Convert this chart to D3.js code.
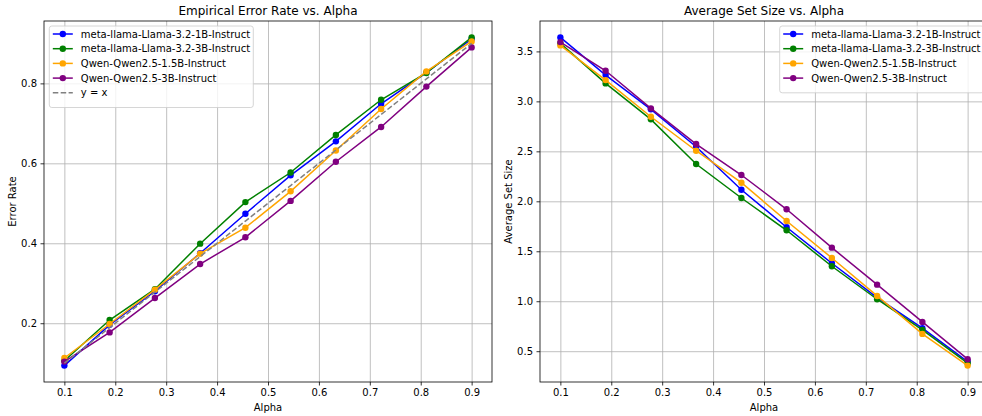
<!DOCTYPE html>
<html>
<head>
<meta charset="utf-8">
<script src="https://cdn.jsdelivr.net/npm/d3@7"></script>
<style>
  body { margin: 0; background: #fff; }
  svg { display: block; font-family: "DejaVu Sans", sans-serif; }
  .tick text { font-size: 10px; fill: #000; }
</style>
</head>
<body>
<svg id="chart" width="982" height="416"></svg>
<script>
// alpha values (x axis)
const alphas = [0.1, 0.1889, 0.2778, 0.3667, 0.4556, 0.5444, 0.6333, 0.7222, 0.8111, 0.9];
const models = ["meta-llama-Llama-3.2-1B-Instruct", "meta-llama-Llama-3.2-3B-Instruct",
                "Qwen-Qwen2.5-1.5B-Instruct", "Qwen-Qwen2.5-3B-Instruct"];
const colors = ["blue", "green", "orange", "purple"];

// empirical error rate per model
const errLlama1B = [0.094, 0.196, 0.280, 0.375, 0.474, 0.570, 0.655, 0.749, 0.827, 0.911];
const errLlama3B = [0.106, 0.208, 0.285, 0.399, 0.503, 0.577, 0.671, 0.759, 0.826, 0.915];
const errQwen15B = [0.113, 0.198, 0.284, 0.374, 0.439, 0.530, 0.632, 0.736, 0.830, 0.905];
const errQwen3B  = [0.104, 0.177, 0.263, 0.348, 0.415, 0.506, 0.604, 0.691, 0.792, 0.890];

// average set size per model
const sizeLlama1B = [3.64, 3.263, 2.92, 2.546, 2.116, 1.74, 1.38, 1.036, 0.73, 0.396];
const sizeLlama3B = [3.58, 3.18, 2.82, 2.373, 2.033, 1.71, 1.35, 1.02, 0.713, 0.38];
const sizeQwen15B = [3.56, 3.213, 2.846, 2.506, 2.186, 1.803, 1.433, 1.053, 0.673, 0.356];
const sizeQwen3B  = [3.593, 3.306, 2.93, 2.573, 2.263, 1.92, 1.536, 1.166, 0.793, 0.42];

const xTicks = [0.1, 0.2, 0.3, 0.4, 0.5, 0.6, 0.7, 0.8, 0.9];
const errTicks = [0.2, 0.4, 0.6, 0.8];
const sizeTicks = [0.5, 1.0, 1.5, 2.0, 2.5, 3.0, 3.5];

const svg = d3.select("#chart");

function panel(opts) {
  let left = opts.left, top = 21, width = 448, height = 361;
  let g = svg.append("g").attr("transform", "translate(" + left + "," + top + ")");

  // matplotlib style 5% padding
  let xr = alphas[alphas.length - 1] - alphas[0];
  let x = d3.scaleLinear()
      .domain([alphas[0] - 0.05 * xr, alphas[alphas.length - 1] + 0.05 * xr])
      .range([0, width]);
  let all = d3.merge(opts.series);
  let ext = d3.extent(all), yr = ext[1] - ext[0];
  let y = d3.scaleLinear()
      .domain([ext[0] - 0.05 * yr, ext[1] + 0.05 * yr])
      .range([height, 0]);

  // grid
  g.append("g").attr("class", "grid")
      .attr("transform", "translate(0," + height + ")")
      .call(d3.axisBottom(x).tickValues(xTicks).tickSize(-height).tickFormat(""))
      .call(s => s.select(".domain").remove());
  g.append("g").attr("class", "grid")
      .call(d3.axisLeft(y).tickValues(opts.yTicks).tickSize(-width).tickFormat(""))
      .call(s => s.select(".domain").remove());
  g.selectAll(".grid line").attr("stroke", "#b0b0b0").attr("stroke-width", 0.8);

  // axes
  let xa = g.append("g")
      .attr("transform", "translate(0," + height + ")")
      .call(d3.axisBottom(x).tickValues(xTicks).tickSize(3.5).tickPadding(3.5).tickFormat(d3.format(".1f")));
  let ya = g.append("g")
      .call(d3.axisLeft(y).tickValues(opts.yTicks).tickSize(3.5).tickPadding(3.5).tickFormat(d3.format(".1f")));
  [xa, ya].forEach(a => {
    a.select(".domain").remove();
    a.selectAll(".tick line").attr("stroke", "#000").attr("stroke-width", 0.8);
    a.attr("font-family", null).attr("font-size", null);
  });

  let line = d3.line()
      .x((d, i) => x(alphas[i]))
      .y(d => y(d));

  opts.series.forEach((s, k) => {
    g.append("path").datum(s)
        .attr("d", line)
        .attr("fill", "none")
        .attr("stroke", colors[k])
        .attr("stroke-width", 1.5);
    g.selectAll(null).data(s).enter().append("circle")
        .attr("cx", (d, i) => x(alphas[i]))
        .attr("cy", d => y(d))
        .attr("r", 3.2)
        .attr("fill", colors[k]);
  });

  if (opts.diag) {
    g.append("path").datum(alphas)
        .attr("d", d3.line().x(d => x(d)).y(d => y(d)))
        .attr("fill", "none")
        .attr("stroke", "gray")
        .attr("stroke-width", 1.5)
        .attr("stroke-dasharray", "5.5,2.4");
  }

  // frame
  g.append("rect")
      .attr("width", width).attr("height", height)
      .attr("fill", "none").attr("stroke", "#000").attr("stroke-width", 0.8);

  // titles
  g.append("text")
      .attr("x", width / 2).attr("y", -6)
      .attr("text-anchor", "middle")
      .attr("font-size", 12)
      .text(opts.title);
  g.append("text")
      .attr("x", width / 2).attr("y", height + 29)
      .attr("text-anchor", "middle")
      .attr("font-size", 10)
      .text("Alpha");
  g.append("text")
      .attr("transform", "translate(" + opts.yLabelX + "," + (height / 2) + ") rotate(-90)")
      .attr("text-anchor", "middle")
      .attr("font-size", 10)
      .text(opts.yLabel);

  // legend
  let names = models.slice();
  if (opts.diag) names.push("y = x");
  let lg = g.append("g").attr("transform", "translate(" + opts.legendX + ",5)");
  lg.append("rect")
      .attr("width", opts.legendW).attr("height", 8 + names.length * 14.7)
      .attr("rx", 2.5)
      .attr("fill", "#fff").attr("fill-opacity", 0.8)
      .attr("stroke", "#cccccc").attr("stroke-width", 0.8);
  names.forEach((nm, k) => {
    let yy = 8 + k * 14.7;
    let row = lg.append("g").attr("transform", "translate(0," + yy + ")");
    if (k < models.length) {
      row.append("line").attr("x1", 3.5).attr("x2", 23.5)
          .attr("stroke", colors[k]).attr("stroke-width", 1.5);
      row.append("circle").attr("cx", 13.5).attr("r", 3.2).attr("fill", colors[k]);
    } else {
      row.append("line").attr("x1", 3.5).attr("x2", 23.5)
          .attr("stroke", "gray").attr("stroke-width", 1.5)
          .attr("stroke-dasharray", "5.5,2.4");
    }
    row.append("text").attr("x", 31.5).attr("dy", "0.35em")
        .attr("font-size", 10).text(nm);
  });
}

panel({
  left: 44, title: "Empirical Error Rate vs. Alpha", yLabel: "Error Rate", yLabelX: -28,
  series: [errLlama1B, errLlama3B, errQwen15B, errQwen3B], yTicks: errTicks,
  diag: true, legendX: 5.3, legendW: 204
});
panel({
  left: 540, title: "Average Set Size vs. Alpha", yLabel: "Average Set Size", yLabelX: -28,
  series: [sizeLlama1B, sizeLlama3B, sizeQwen15B, sizeQwen3B], yTicks: sizeTicks,
  diag: false, legendX: 239.7, legendW: 204
});
</script>
</body>
</html>
